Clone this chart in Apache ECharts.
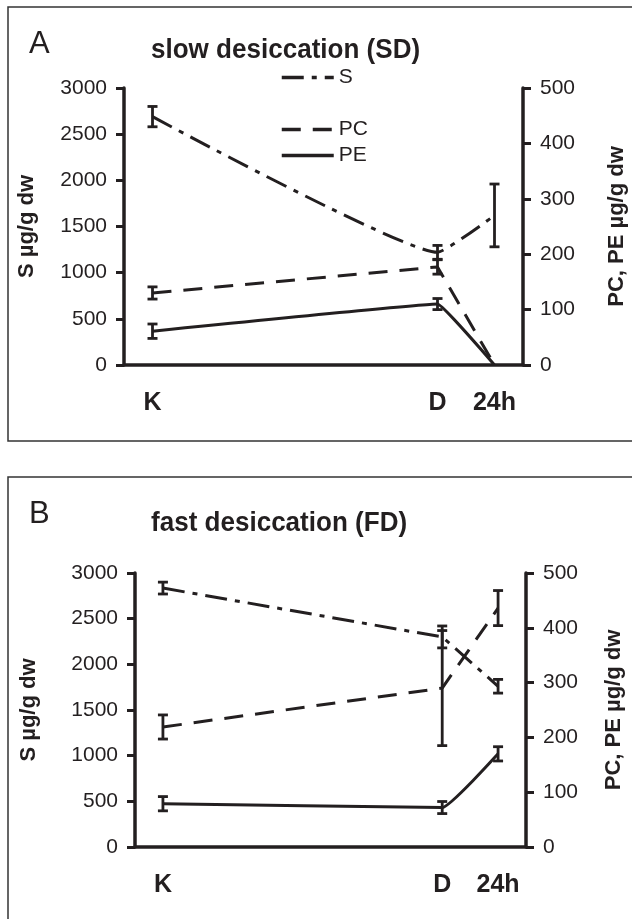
<!DOCTYPE html>
<html>
<head>
<meta charset="utf-8">
<script src="https://cdn.jsdelivr.net/npm/echarts@6/dist/echarts.min.js"></script>
<style>
html, body { margin: 0; padding: 0; background: #fff; }
#chart { width: 632px; height: 919px; }
</style>
</head>
<body>
<div id="chart"></div>
<script>
// x positions of the sampling points (K, D, 24h) on a 0..14 scale
var xPos = [1, 11, 13];
var catLabels = ['K', 'D', '24h'];

// A: slow desiccation
var sA = [2690, 1220, 1620];
var sErrA = [110, 75, 340];
var pcA = [130, 177, 0];
var pcErrA = [11, 13, 0];
var peA = [61, 110, 0];
var peErrA = [13, 10, 0];

// B: fast desiccation
var sB = [2835, 2300, 1760];
var sErrB = [65, 120, 75];
var pcB = [219, 290, 436];
var pcErrB = [22, 105, 32];
var peB = [79, 72, 170];
var peErrB = [13, 11, 13];

var leftTicks = [0, 500, 1000, 1500, 2000, 2500, 3000];
var rightTicks = [0, 100, 200, 300, 400, 500];

var ink = '#231f20';
var font = 'Liberation Sans, Arial, sans-serif';

var dashS = [22, 8, 5, 8];
var dashPC = [19, 12];

function pairs(vals) {
	return vals.map(function(v, i) { return [xPos[i], v]; });
}
function errs(vals, e) {
	var out = [];
	for (var i = 0; i < vals.length; i++) {
		if (e[i] > 0) out.push([xPos[i], vals[i] - e[i], vals[i] + e[i]]);
	}
	return out;
}

function renderErr(params, api) {
	var x = api.value(0);
	var top = api.coord([x, api.value(2)]);
	var bot = api.coord([x, api.value(1)]);
	var hw = 5;
	var st = { stroke: ink, lineWidth: 2.8 };
	return {
		type: 'group',
		children: [
			{ type: 'line', shape: { x1: top[0], y1: top[1], x2: bot[0], y2: bot[1] }, style: st },
			{ type: 'line', shape: { x1: top[0] - hw, y1: top[1], x2: top[0] + hw, y2: top[1] }, style: st },
			{ type: 'line', shape: { x1: bot[0] - hw, y1: bot[1], x2: bot[0] + hw, y2: bot[1] }, style: st }
		]
	};
}

function lineSeries(name, data, idx, yIdx, dash, smooth) {
	return {
		name: name, type: 'line', xAxisIndex: idx, yAxisIndex: yIdx,
		data: pairs(data), symbol: 'none', smooth: smooth,
		lineStyle: { color: ink, width: 3, type: dash },
		itemStyle: { color: ink },
		silent: true, z: 3
	};
}
function errSeries(data, idx, yIdx) {
	return {
		type: 'custom', xAxisIndex: idx, yAxisIndex: yIdx,
		renderItem: renderErr, data: data, silent: true, z: 4
	};
}

function xAxisFor(idx) {
	return {
		type: 'value', gridIndex: idx, min: 0, max: 14, interval: 1,
		axisLine: { show: true, onZero: false, lineStyle: { color: ink, width: 3.5 } },
		axisTick: { show: false },
		splitLine: { show: false },
		axisLabel: {
			margin: 26, fontSize: 25, fontWeight: 'bold', color: ink, fontFamily: font,
			formatter: function(v) {
				var i = xPos.indexOf(v);
				return i >= 0 ? catLabels[i] : '';
			}
		}
	};
}
function yAxisFor(idx, side, ticks, name, gap) {
	return {
		type: 'value', gridIndex: idx, position: side,
		min: ticks[0], max: ticks[ticks.length - 1], interval: ticks[1] - ticks[0],
		name: name, nameLocation: 'middle', nameGap: gap, nameRotate: 90,
		nameTextStyle: { fontSize: 22, fontWeight: 'bold', color: ink, fontFamily: font },
		axisLine: { show: true, lineStyle: { color: ink, width: 3.5 } },
		axisTick: { show: true, length: 8, lineStyle: { color: ink, width: 3 } },
		splitLine: { show: false },
		axisLabel: {
			margin: 17, fontSize: 21, color: ink, fontFamily: font,
			formatter: function(v) { return String(v); }
		}
	};
}

function titleText(text, x, y) {
	return {
		type: 'text', x: x, y: y, scaleX: 0.93, silent: true,
		style: { text: text, fill: ink, font: 'bold 28px Liberation Sans, Arial, sans-serif', verticalAlign: 'middle' }
	};
}

var legendBase = {
	left: 275, selectedMode: false,
	itemWidth: 52, itemHeight: 20,
	itemStyle: { opacity: 0 },
	lineStyle: { width: 3.5, color: ink },
	textStyle: { fontSize: 21, color: ink, fontFamily: font }
};

var myChart = echarts.init(document.getElementById('chart'));
var option = {
	backgroundColor: '#fff',
	animation: false,
	title: [
		{ text: 'A', left: 24, top: 24, textStyle: { fontSize: 31, fontWeight: 'normal', color: ink, fontFamily: font } },
		{ text: 'B', left: 24, top: 494, textStyle: { fontSize: 31, fontWeight: 'normal', color: ink, fontFamily: font } }
	],
	legend: [
		Object.assign({}, legendBase, { data: ['S'], top: 62 }),
		Object.assign({}, legendBase, { data: ['PC', 'PE'], orient: 'vertical', top: 114, itemGap: 5 })
	],
	graphic: [
		{ type: 'rect', shape: { x: 8, y: 7, width: 700, height: 434 }, style: { fill: 'none', stroke: '#333', lineWidth: 1.5 }, silent: true },
		{ type: 'rect', shape: { x: 8, y: 477, width: 700, height: 600 }, style: { fill: 'none', stroke: '#333', lineWidth: 1.5 }, silent: true },
		titleText('slow desiccation (SD)', 151, 50),
		titleText('fast desiccation (FD)', 151, 523)
	],
	grid: [
		{ left: 124, right: 109, top: 88, bottom: 554, outerBoundsMode: 'none', containLabel: false },
		{ left: 135, right: 106, top: 573, bottom: 72, outerBoundsMode: 'none', containLabel: false }
	],
	xAxis: [xAxisFor(0), xAxisFor(1)],
	yAxis: [
		yAxisFor(0, 'left', leftTicks, 'S µg/g dw', 86),
		yAxisFor(0, 'right', rightTicks, 'PC, PE µg/g dw', 83),
		yAxisFor(1, 'left', leftTicks, 'S µg/g dw', 95),
		yAxisFor(1, 'right', rightTicks, 'PC, PE µg/g dw', 77)
	],
	series: [
		lineSeries('S', sA, 0, 0, dashS, 0.12),
		lineSeries('PC', pcA, 0, 1, dashPC, 0),
		lineSeries('PE', peA, 0, 1, 'solid', 0.06),
		errSeries(errs(sA, sErrA), 0, 0),
		errSeries(errs(pcA, pcErrA), 0, 1),
		errSeries(errs(peA, peErrA), 0, 1),
		lineSeries('S', sB, 1, 2, dashS, 0),
		lineSeries('PC', pcB, 1, 3, dashPC, 0),
		lineSeries('PE', peB, 1, 3, 'solid', 0.1),
		errSeries(errs(sB, sErrB), 1, 2),
		errSeries(errs(pcB, pcErrB), 1, 3),
		errSeries(errs(peB, peErrB), 1, 3)
	]
};
myChart.setOption(option);
</script>
</body>
</html>
